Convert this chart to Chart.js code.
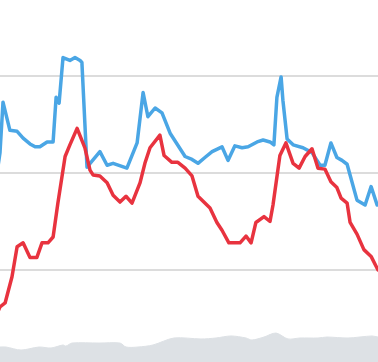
<!DOCTYPE html>
<html>
<head>
<meta charset="utf-8">
<script src="https://cdn.jsdelivr.net/npm/chart.js@4/dist/chart.umd.min.js"></script>
<style>
  html, body { margin: 0; padding: 0; background: #fff; }
  #chart { display: block; }
</style>
</head>
<body>
<canvas id="chart" width="378" height="362"></canvas>
<script>
// time index (days) and values
const blueDays = [-1, 0, 1, 3.3, 5.7, 7.7, 10, 11.7, 13.3, 15.7, 17.7, 18.7, 19.7, 21, 23.3, 25, 26.7, 27.3, 29,
  33.3, 35.7, 37.7, 42.3, 45.7, 47.7, 49.3, 51.7, 54, 56.7, 61.7, 64, 66, 68.3, 70.7, 74, 76, 78.3, 80.7, 82.7,
  85.7, 87.7, 90, 91.3, 92.3, 93.7, 94.3, 95.7, 97.7, 101, 104, 106.7, 108.3, 110.3, 112.3, 114, 115.7, 119,
  121.7, 123.7, 125.7, 128];
const blueValues = [200, 221, 273, 244, 243, 236, 230, 227, 227, 232, 232, 278, 272, 319, 316, 319, 316, 314, 206,
  222, 208, 210, 205, 231, 283, 258, 267, 262, 241, 217, 214, 210, 216, 222, 227, 213, 228, 226, 227,
  232, 234, 232, 229, 278, 299, 275, 235, 229, 226, 221, 208, 208, 231, 216, 213, 209, 172,
  167, 186, 167, 172];

const redDays = [-1, 0, 1.7, 4, 5.7, 7.7, 10, 12.3, 14, 16, 17.7, 19.3, 21.7, 23.3, 25.7, 28.3, 30, 31, 33.3,
  35.7, 37.7, 40, 42, 44, 46.7, 48.3, 50, 53.3, 54.7, 57.3, 59.3, 61.7, 64, 66, 68.3, 70, 72.3, 74, 76.3,
  80, 82, 83.7, 85.3, 88, 90, 91, 93.3, 95.3, 97.7, 99.7, 101.7, 104, 106, 108.3, 110.3, 112.3, 113.7,
  115.7, 116.7, 119, 121.3, 123.7, 126, 128.3];
const redValues = [55, 62, 66, 93, 124, 128, 113, 113, 128, 128, 134, 169, 217, 229, 246, 226, 203, 198, 197,
  190, 177, 170, 176, 169, 190, 210, 226, 239, 218, 211, 211, 205, 197, 176, 169, 164, 149, 141, 128,
  128, 135, 128, 149, 155, 150, 167, 218, 231, 210, 205, 217, 225, 205, 204, 191, 185, 174,
  169, 149, 137, 121, 114, 100, 85];

const greyDays = [-1, 0, 2, 7, 13, 17, 21, 22, 24, 33, 40, 42, 46, 51, 58, 67, 72, 77, 82, 84, 88, 92, 96,
  100, 106, 109, 116, 124, 126, 128];
const greyValues = [20.6, 20.6, 20.6, 17.5, 20.6, 19.6, 22.7, 21.6, 24.7, 24.7, 24.7, 20.6, 20.6, 22.7, 29.9,
  28.9, 29.9, 32, 29.9, 27.8, 30.9, 35, 28.9, 29.9, 29.9, 30.9, 29.9, 32, 30.9, 31];

const gridValues = [100, 200, 300];

const toPoints = (days, values) => days.map((d, i) => ({ x: d, y: values[i] }));

const ctx = document.getElementById('chart').getContext('2d');
new Chart(ctx, {
  type: 'line',
  data: {
    datasets: [
      {
        data: toPoints(redDays, redValues),
        borderColor: '#e8333f',
        borderWidth: 3.5,
        pointRadius: 0,
        tension: 0,
        borderJoinStyle: 'round',
        borderCapStyle: 'round',
        fill: false,
      },
      {
        data: toPoints(blueDays, blueValues),
        borderColor: '#4aa6e5',
        borderWidth: 3.5,
        pointRadius: 0,
        tension: 0,
        borderJoinStyle: 'round',
        borderCapStyle: 'round',
        fill: false,
      },
      {
        data: toPoints(greyDays, greyValues),
        borderColor: '#dde1e5',
        borderWidth: 1,
        backgroundColor: '#dde1e5',
        pointRadius: 0,
        tension: 0.3,
        fill: 'start',
      },
    ],
  },
  options: {
    responsive: false,
    animation: false,
    layout: { padding: 0 },
    plugins: {
      legend: { display: false },
      tooltip: { enabled: false },
    },
    scales: {
      x: {
        type: 'linear',
        min: 0,
        max: 126,
        display: false,
      },
      y: {
        min: 5.15,
        max: 378.35,
        afterBuildTicks: (axis) => {
          axis.ticks = gridValues.map((v) => ({ value: v }));
        },
        ticks: { display: false },
        border: { display: false },
        grid: {
          color: '#dcdcdc',
          lineWidth: 2,
          drawTicks: false,
        },
      },
    },
  },
});
</script>
</body>
</html>
